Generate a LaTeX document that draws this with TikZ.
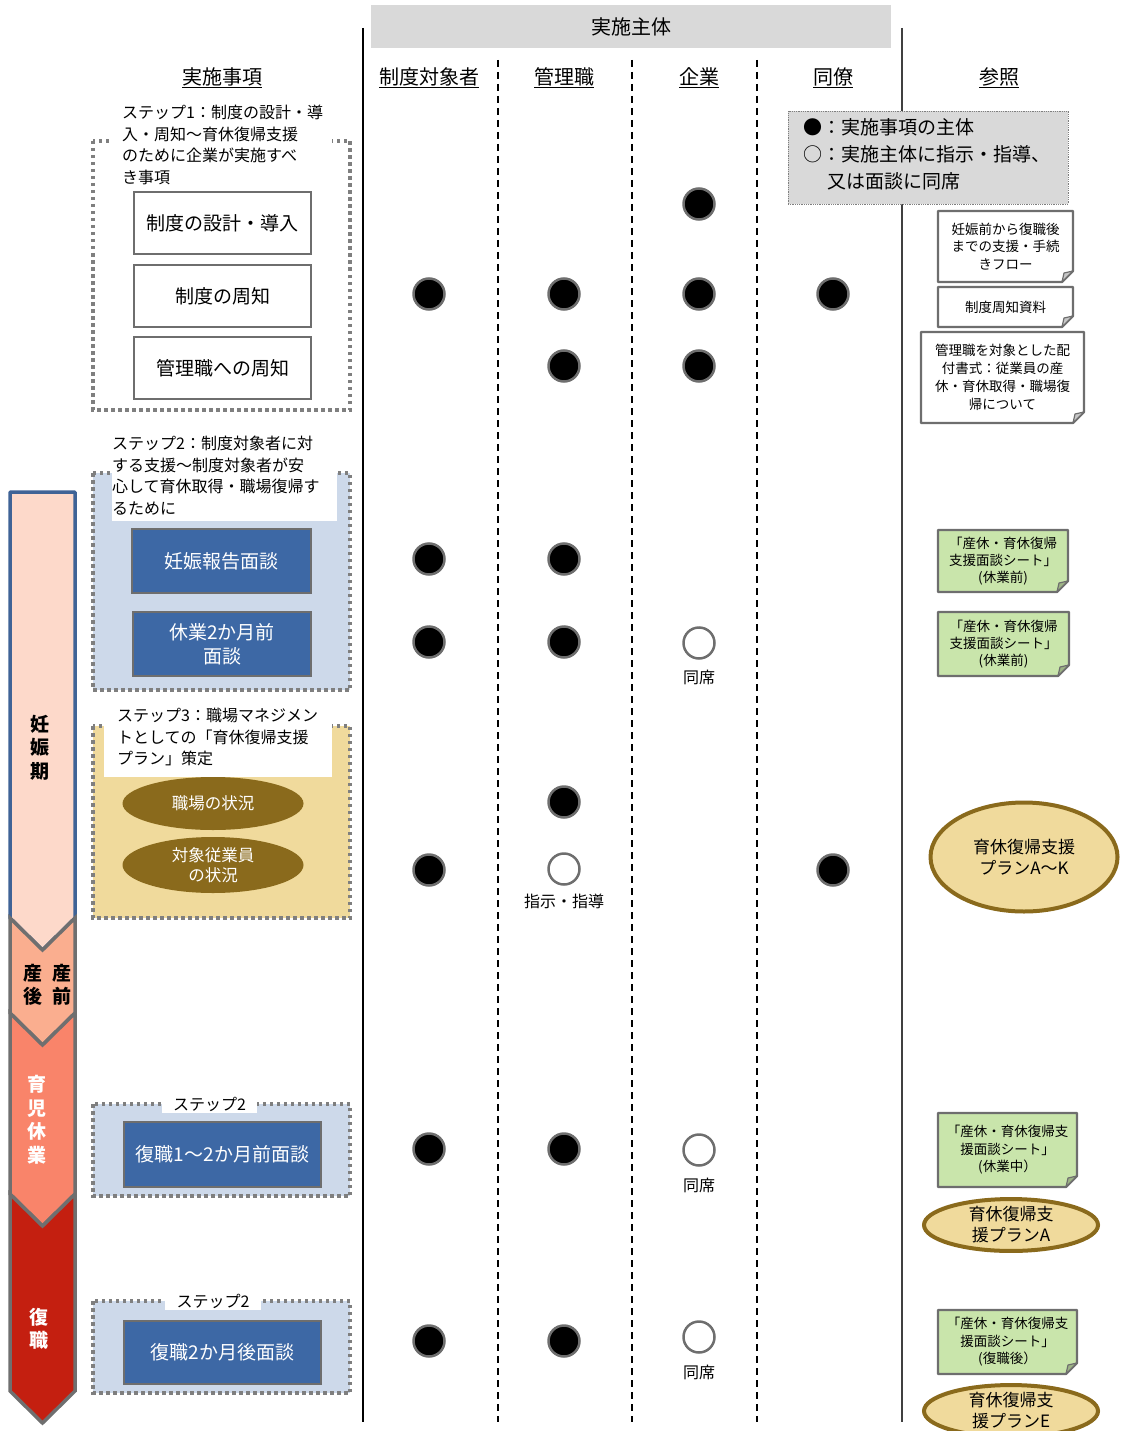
\documentclass[tikz,border=0pt]{standalone}
\usepackage{fontspec}
\setmainfont{Noto Sans CJK JP}
\usetikzlibrary{shapes.geometric}
\definecolor{hdrgray}{HTML}{D9D9D9}
\definecolor{boxgray}{HTML}{6E6E6E}
\definecolor{dotline}{HTML}{7F7F7F}
\definecolor{stepblue}{HTML}{CDD9EA}
\definecolor{darkblue}{HTML}{3D68A5}
\definecolor{steptan}{HTML}{F0DA9C}
\definecolor{planolive}{HTML}{8A6A1C}
\definecolor{notegreen}{HTML}{C9E5AB}
\definecolor{peach}{HTML}{FDD9CA}
\definecolor{salmonA}{HTML}{FAAE8F}
\definecolor{coralB}{HTML}{F9846A}
\definecolor{darkredC}{HTML}{C41F10}
\definecolor{barblue}{HTML}{3F6396}
\definecolor{bargray}{HTML}{6F6F6F}
\newcommand\myfs[2]{\fontsize{#1}{#2}\selectfont}
% folded-corner note: name, x1, y1, x2, y2, fill, font, text
\newcommand\foldnote[8]{%
  \filldraw[fill=#6, draw=boxgray, line width=2.2, line join=round]
    (#2,#3) -- (#4,#3) -- (#4,#5-11) -- (#4-11,#5) -- (#2,#5) -- cycle;
  \filldraw[fill=#6!78!black, draw=boxgray, line width=1.2, line join=round]
    (#4,#5-11) -- (#4-11,#5) -- (#4-9,#5-9) -- cycle;
  \node[align=center, inner sep=0, font=#7] (#1) at ({(#2+#4)/2},{(#3+#5)/2}) {#8};
}
\begin{document}
\begin{tikzpicture}[x=1pt,y=-1pt,
  dotbox/.style={draw=dotline, line width=3.5, dash pattern=on 3.5pt off 3.5pt},
  whitebox/.style={draw=boxgray, fill=white, line width=2.5, minimum width=177, minimum height=62, inner sep=0, font=\myfs{19}{24}},
  bluebox/.style={draw=boxgray, fill=darkblue, line width=2.5, inner sep=0, text=white, align=center, font=\myfs{19}{24}},
  ovalbtn/.style={ellipse, fill=planolive, text=white, inner sep=0, align=center, minimum width=181, font=\myfs{16.5}{20}},
  fdot/.style={circle, fill=black, draw=boxgray, line width=2.5, minimum size=31, inner sep=0},
  odot/.style={circle, fill=white, draw=boxgray, line width=2.5, minimum size=31, inner sep=0},
  colhead/.style={font=\myfs{20}{24}, inner sep=0},
  steptext/.style={align=left, anchor=north west, inner sep=0, font=\myfs{16}{21.5}},
  sublabel/.style={font=\myfs{16}{20}, inner sep=0},
  bartext/.style={font=\myfs{19}{23.5}\bfseries, align=center, inner sep=0},
  planoval/.style={ellipse, fill=steptan, draw=planolive, line width=4, inner sep=0, align=center, font=\myfs{17}{21}}
]
\useasboundingbox (0,0) rectangle (1120,1431);

% ---------- column lines ----------
\draw[line width=1.5, black] (363,28) -- (363,1422);
\draw[line width=1.8, black!75] (902,28) -- (902,1422);
\foreach \xx in {498,632,757}
  \draw[line width=1.2, black, dash pattern=on 7pt off 5pt] (\xx,60) -- (\xx,1422);

% ---------- header ----------
\node[fill=hdrgray, minimum width=520, minimum height=43, inner sep=0, font=\myfs{20}{24}] (hdr) at (631,26.5) {実施主体};
\node[colhead] (h0) at (222,78) {\underline{実施事項}};
\node[colhead] (h1) at (429,78) {\underline{制度対象者}};
\node[colhead] (h2) at (564,78) {\underline{管理職}};
\node[colhead] (h3) at (699,78) {\underline{企業}};
\node[colhead] (h4) at (833,78) {\underline{同僚}};
\node[colhead] (h5) at (999,78) {\underline{参照}};

% ---------- time bar ----------
\filldraw[fill=peach, draw=barblue, line width=3.5, line join=round]
  (10,492) -- (75,492) -- (75,918) -- (42.5,950) -- (10,918) -- cycle;
\filldraw[fill=salmonA, draw=bargray, line width=3.5]
  (10,918) -- (42.5,950) -- (75,918) -- (75,1013) -- (42.5,1045) -- (10,1013) -- cycle;
\filldraw[fill=coralB, draw=bargray, line width=3.5]
  (10,1013) -- (42.5,1045) -- (75,1013) -- (75,1194) -- (42.5,1226) -- (10,1194) -- cycle;
\filldraw[fill=darkredC, draw=bargray, line width=3.5]
  (10,1194) -- (42.5,1226) -- (75,1194) -- (75,1391) -- (42.5,1423) -- (10,1391) -- cycle;
\node[bartext] (tp1) at (40,747.5) {妊\\娠\\期};
\node[bartext] (tp2) at (47.5,985) {産\hspace{0.5em}産\\後\hspace{0.5em}前};
\node[bartext, text=white] (tp3) at (37,1120) {育\\児\\休\\業};
\node[bartext, text=white] (tp4) at (39,1329) {復\\職};

% ---------- step 1 ----------
\draw[dotbox] (93,141) rectangle (350,410);
\fill[white] (113,100) rectangle (332,188);
\node[steptext] (st1) at (122,105) {ステップ1：制度の設計・導\\入・周知～育休復帰支援\\のために企業が実施すべ\\き事項};
\node[whitebox] (b1) at (222.5,223) {制度の設計・導入};
\node[whitebox] (b2) at (222.5,296) {制度の周知};
\node[whitebox] (b3) at (222.5,368) {管理職への周知};

% ---------- step 2 ----------
\filldraw[dotbox, fill=stepblue] (93,473) rectangle (350,690);
\fill[white] (112,430) rectangle (337,521);
\node[steptext] (st2) at (112,436) {ステップ2：制度対象者に対\\する支援～制度対象者が安\\心して育休取得・職場復帰す\\るために};
\node[bluebox, minimum width=179, minimum height=64] (b4) at (221.5,561) {妊娠報告面談};
\node[bluebox, minimum width=178, minimum height=64] (b5) at (222,644) {休業2か月前\\面談};

% ---------- step 3 ----------
\filldraw[dotbox, fill=steptan] (93,726) rectangle (350,918);
\fill[white] (103.5,700) rectangle (332,777);
\node[steptext] (st3) at (117,708) {ステップ3：職場マネジメン\\トとしての「育休復帰支援\\プラン」策定};
\node[ovalbtn, minimum height=53] (e1) at (213,803.5) {職場の状況};
\node[ovalbtn, minimum height=56] (e2) at (213,865) {対象従業員\\の状況};

% ---------- step 2 (leave / return) ----------
\filldraw[dotbox, fill=stepblue] (93,1104) rectangle (350,1196);
\node[fill=white, inner xsep=11.5, inner ysep=2, font=\myfs{16}{20}] (s2a) at (209.5,1104) {ステップ2};
\node[bluebox, minimum width=197, minimum height=65] (b6) at (222.5,1154.5) {復職1～2か月前面談};
\filldraw[dotbox, fill=stepblue] (93,1301) rectangle (350,1393);
\node[fill=white, inner xsep=11.5, inner ysep=2, font=\myfs{16}{20}] (s2b) at (213,1301) {ステップ2};
\node[bluebox, minimum width=197, minimum height=63] (b7) at (222.5,1352.5) {復職2か月後面談};

% ---------- dots ----------
\node[fdot] (r1c3) at (699,204) {};
\node[fdot] (r2c1) at (429,294) {};
\node[fdot] (r2c2) at (564,294) {};
\node[fdot] (r2c3) at (699,294) {};
\node[fdot] (r2c4) at (833,294) {};
\node[fdot] (r3c2) at (564,366) {};
\node[fdot] (r3c3) at (699,366) {};
\node[fdot] (r4c1) at (429,559) {};
\node[fdot] (r4c2) at (564,559) {};
\node[fdot] (r5c1) at (429,642) {};
\node[fdot] (r5c2) at (564,642) {};
\node[odot] (r5c3) at (699,643) {};
\node[sublabel] (l5) at (699,677) {同席};
\node[fdot] (r6c2) at (564,802) {};
\node[fdot] (r7c1) at (429,870) {};
\node[odot] (r7c2) at (564,869) {};
\node[sublabel] (l7) at (564,901) {指示・指導};
\node[fdot] (r7c4) at (833,870) {};
\node[fdot] (r8c1) at (429,1149) {};
\node[fdot] (r8c2) at (564,1149) {};
\node[odot] (r8c3) at (699,1150) {};
\node[sublabel] (l8) at (699,1185) {同席};
\node[fdot] (r9c1) at (429,1341) {};
\node[fdot] (r9c2) at (564,1341) {};
\node[odot] (r9c3) at (699,1337) {};
\node[sublabel] (l9) at (699,1372) {同席};

% ---------- legend ----------
\node[fill=hdrgray, draw=dotline, densely dotted, line width=0.8, minimum width=280, minimum height=93, inner sep=0] (legbox) at (928,157.5) {};
\node[align=left, anchor=north west, inner sep=0, font=\myfs{19}{27}] (legtxt) at (803,118.5) {●：実施事項の主体\\○：実施主体に指示・指導、\\\hspace{1.3em}又は面談に同席};

% ---------- reference notes ----------
\foldnote{n1}{938}{211}{1073}{282}{white}{\myfs{13.5}{17.5}}{妊娠前から復職後\\までの支援・手続\\きフロー}
\foldnote{n2}{938}{287}{1073}{327}{white}{\myfs{13.5}{17.5}}{制度周知資料}
\foldnote{n3}{921}{332}{1084}{423}{white}{\myfs{13.5}{18}}{管理職を対象とした配\\付書式：従業員の産\\休・育休取得・職場復\\帰について}
\foldnote{g1}{938}{530}{1068}{592}{notegreen}{\myfs{13.5}{16.8}}{「産休・育休復帰\\支援面談シート」\\(休業前)}
\foldnote{g2}{938}{612}{1069}{676}{notegreen}{\myfs{13.5}{16.8}}{「産休・育休復帰\\支援面談シート」\\(休業前)}
\foldnote{g3}{938}{1113}{1077}{1187}{notegreen}{\myfs{13.5}{17.5}}{「産休・育休復帰支\\援面談シート」\\(休業中）}
\foldnote{g4}{938}{1310}{1077}{1374}{notegreen}{\myfs{13.5}{17.5}}{「産休・育休復帰支\\援面談シート」\\(復職後）}
\node[planoval, minimum width=187, minimum height=109] (p1) at (1024,857) {育休復帰支援\\プランA～K};
\node[planoval, minimum width=174, minimum height=48] (p2) at (1011,1225) {育休復帰支\\援プランA};
\node[planoval, minimum width=174, minimum height=48] (p3) at (1011,1411) {育休復帰支\\援プランE};
\end{tikzpicture}
\end{document}
